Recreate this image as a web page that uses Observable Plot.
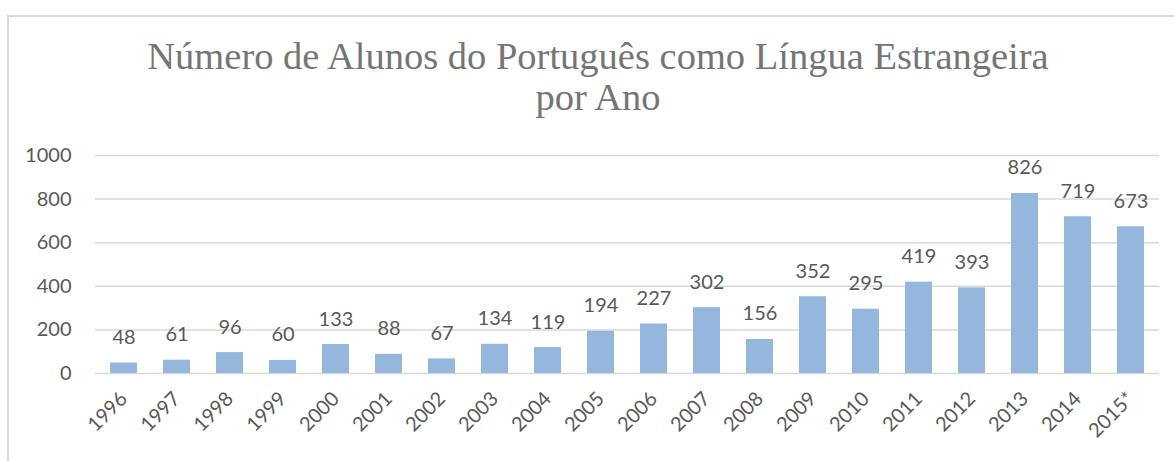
<!DOCTYPE html>
<html>
<head>
<meta charset="utf-8">
<script src="https://cdn.jsdelivr.net/npm/d3@7"></script>
<script src="https://cdn.jsdelivr.net/npm/@observablehq/plot@0.6"></script>
<style>
  html, body { margin: 0; padding: 0; background: #fff; }
  #wrap { position: relative; width: 1174px; height: 461px; overflow: hidden; background: #fff; }
  #frame { position: absolute; left: 7px; top: 15px; width: 1300px; height: 600px;
           border-left: 2px solid #d9d9d9; border-top: 2px solid #d9d9d9; box-sizing: border-box; }
  #title { position: absolute; left: 0; top: 36px; width: 1196px; text-align: center;
           font-family: "Liberation Serif", "Times New Roman", serif; font-size: 38.5px;
           line-height: 41px; color: #757575; }
  #chart { position: absolute; left: 0; top: 0; }
</style>
</head>
<body>
<div id="wrap">
  <div id="frame"></div>
  <div id="title">Número de Alunos do Português como Língua Estrangeira<br>por Ano</div>
  <div id="chart"></div>
</div>
<script>
const years = ["1996","1997","1998","1999","2000","2001","2002","2003","2004","2005","2006","2007","2008","2009","2010","2011","2012","2013","2014","2015*"];
const students = [48,61,96,60,133,88,67,134,119,194,227,302,156,352,295,419,393,826,719,673];
const yTicks = [0,200,400,600,800,1000];

const data = years.map((year, i) => ({year, n: students[i]}));

const chart = Plot.plot({
  width: 1174,
  height: 461,
  marginLeft: 95,
  marginRight: 15,
  marginTop: 155,
  marginBottom: 88,
  x: {domain: years, paddingInner: 0.5, paddingOuter: 0.25, label: null, tickSize: 0, tickRotate: -45, tickPadding: 22},
  y: {domain: [0, 1000], ticks: yTicks, tickFormat: d3.format("d"), label: null, tickSize: 0, tickPadding: 24},
  style: {fontFamily: "Lato, 'Open Sans', sans-serif", fontSize: "20px", color: "#595959", background: "transparent"},
  marks: [
    Plot.ruleY(yTicks, {stroke: "#d9d9d9", strokeWidth: 1.5}),
    Plot.barY(data, {x: "year", y: "n", fill: "#95b7de"}),
    Plot.text(data, {x: "year", y: "n", text: d => String(d.n), dy: -19, lineAnchor: "bottom", fill: "#595959", fontSize: 20})
  ]
});
document.getElementById("chart").appendChild(chart);
</script>
</body>
</html>
